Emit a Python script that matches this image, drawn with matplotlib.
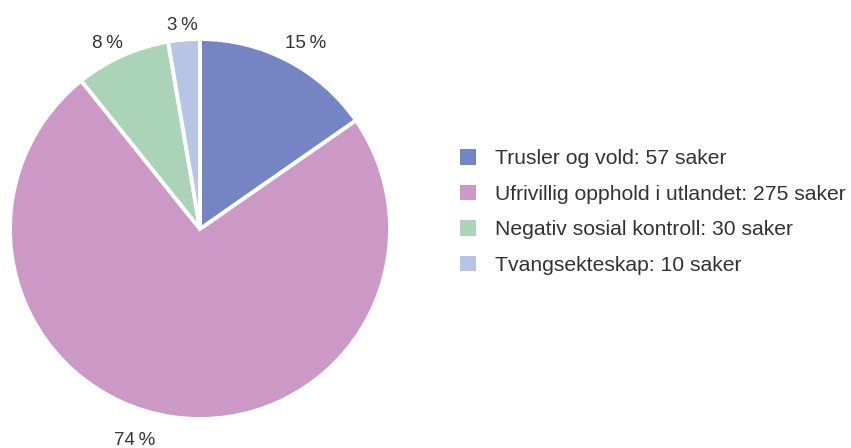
import numpy as np
import matplotlib.pyplot as plt
from matplotlib.patches import Patch

plt.rcParams['font.family'] = ['Liberation Sans', 'DejaVu Sans']

# Data
categories = ['Trusler og vold', 'Ufrivillig opphold i utlandet',
              'Negativ sosial kontroll', 'Tvangsekteskap']
cases = [57, 275, 30, 10]
colors = ['#7585c3', '#cc99c6', '#abd3b8', '#b8c4e6']

# label placement tweaks (angle offset in degrees, distance in radii)
label_shift = [-1.8, -9.0, 2.2, 0.1]
label_dist = [1.13, 1.155, 1.10, 1.085]

W, H = 851, 448
fig = plt.figure(figsize=(W / 100, H / 100), dpi=100)

# pie axes: centre (200, 229) px, radius ~190 px
cx, cy, r = 200, 229, 190
ax = fig.add_axes([(cx - r) / W, (H - cy - r) / H, 2 * r / W, 2 * r / H])

total = sum(cases)
wedges, texts = ax.pie(cases, colors=colors, startangle=90, counterclock=False,
                       radius=1.0, center=(0, 0), frame=False,
                       wedgeprops=dict(edgecolor='white', linewidth=2.8))

# percent labels outside the slices
cum = np.cumsum([0] + cases[:-1])
for i, v in enumerate(cases):
    mid = 90 - (cum[i] + v / 2) / total * 360 + label_shift[i]
    x = label_dist[i] * np.cos(np.radians(mid))
    y = label_dist[i] * np.sin(np.radians(mid))
    ax.annotate(f'{round(v / total * 100):d}\u2009%', (x, y),
                xytext=(0, -1.5), textcoords='offset points',
                ha='center', va='center', fontsize=13.5, color='#333333',
                annotation_clip=False)
ax.set_xlim(-1, 1)
ax.set_ylim(-1, 1)
ax.axis('off')

# legend
handles = [Patch(facecolor=c, edgecolor='none') for c in colors]
labels = [f'{c}: {n} saker' for c, n in zip(categories, cases)]
fig.legend(handles, labels, loc='center left',
           bbox_to_anchor=(460 / W, 1 - 212 / H), frameon=False,
           fontsize=15.2, labelcolor='#333333',
           handlelength=0.77, handleheight=0.77, handletextpad=0.9,
           labelspacing=0.77, borderaxespad=0, borderpad=0)

fig.savefig('out.png', dpi=100)
